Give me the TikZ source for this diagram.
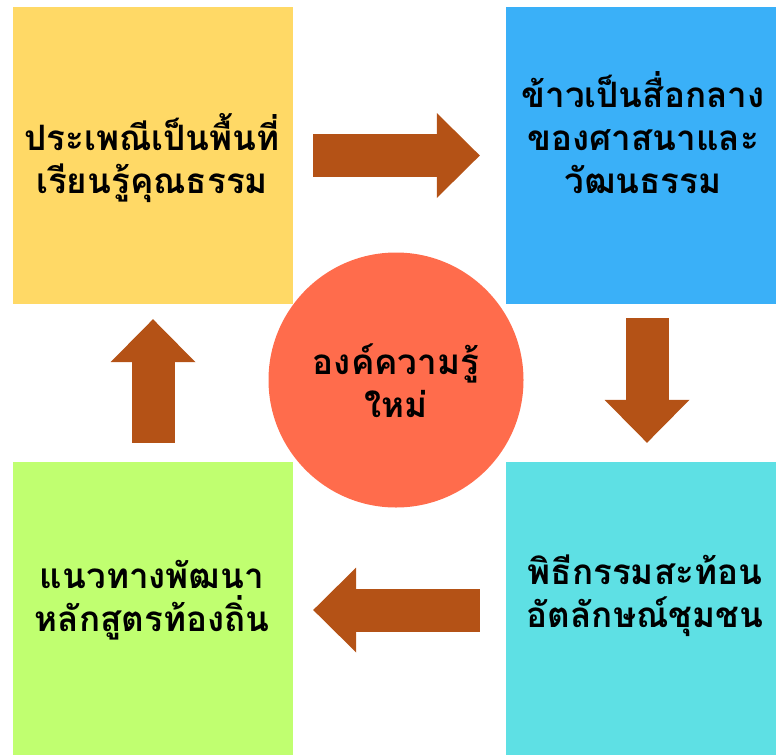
\documentclass[tikz,border=0pt]{standalone}
\usepackage{fontspec}
\newfontfamily\thaifont[Script=Thai]{Loma}
\usetikzlibrary{arrows.meta, positioning}

\definecolor{boxyellow}{RGB}{255,217,102}
\definecolor{boxblue}{RGB}{58,176,248}
\definecolor{boxgreen}{RGB}{192,255,112}
\definecolor{boxcyan}{RGB}{94,224,228}
\definecolor{hubred}{RGB}{255,108,76}
\definecolor{arrowbrown}{RGB}{180,82,22}

\tikzset{
    box/.style={rectangle, draw=none, inner sep=0pt, minimum width=280pt, minimum height=297pt},
    thaitext/.style={align=center, font=\thaifont\bfseries\fontsize{35}{43}\selectfont},
    bigarrow/.style={draw=arrowbrown, line width=43pt,
        -{Triangle[width=85pt, length=43pt, line width=0pt]}}
}

\begin{document}
\begin{tikzpicture}[x=1pt, y=-1pt]
            \useasboundingbox (0,0) rectangle (776,755);
            \clip (0,0) rectangle (776,755);
            \coordinate (Y) at (153,155.5);
            \coordinate (B) at (641,155.5);
            \coordinate (C) at (641,608.5);
            \coordinate (G) at (153,608.5);
            \coordinate (H) at (396,380);
            \node (yellow) at (Y) [box, fill=boxyellow] {};
            \node (blue) at (B) [box, fill=boxblue, minimum width=270pt] {};
            \node (cyan) at (C) [box, fill=boxcyan, minimum width=270pt, minimum height=293pt] {};
            \node (green) at (G) [box, fill=boxgreen, minimum height=293pt] {};
            \node (hub) at (H) [circle, fill=hubred, minimum size=255pt, inner sep=0pt] {};
            \node at (152,158) [thaitext] {ประเพณีเป็นพื้นที่\\เรียนรู้คุณธรรม};
            \node at (643,133) [thaitext] {ข้าวเป็นสื่อกลาง\\ของศาสนาและ\\วัฒนธรรม};
            \node at (645,596) [thaitext] {พิธีกรรมสะท้อน\\อัตลักษณ์ชุมชน};
            \node at (152,600) [thaitext] {แนวทางพัฒนา\\หลักสูตรท้องถิ่น};
            \node at (396,381) [thaitext] {องค์ความรู้\\ใหม่};
            \draw[bigarrow, shorten <=20pt, shorten >=26pt] (yellow.east) -- (blue.west);
            \draw[bigarrow, shorten <=14pt, shorten >=19pt] ([xshift=6pt]blue.south) -- ([xshift=6pt]cyan.north);
            \draw[bigarrow, shorten <=26pt, shorten >=20pt] ([yshift=-1.5pt]cyan.west) -- ([yshift=-1.5pt]green.east);
            \draw[bigarrow, shorten <=19pt, shorten >=15pt] (green.north) -- (yellow.south);
        \end{tikzpicture}
\end{document}
